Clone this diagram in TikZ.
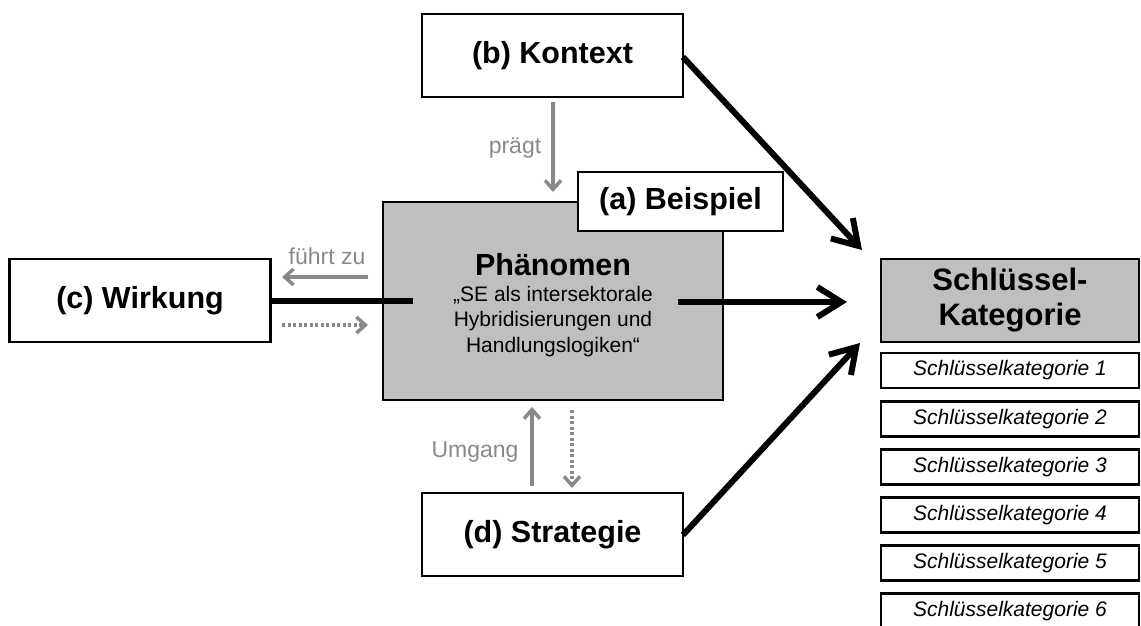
\documentclass[tikz,border=0pt]{standalone}
\usepackage{fontspec}
\setmainfont{Liberation Sans}
\usetikzlibrary{arrows.meta}
\definecolor{boxgray}{RGB}{191,191,191}
\definecolor{argray}{RGB}{137,137,137}
\begin{document}
\begin{tikzpicture}[x=1pt,y=-1pt,
 box/.style={draw=black, line width=2.6pt, fill=white, minimum width=261pt, minimum height=83pt, inner sep=0pt, font=\fontsize{30.5}{34}\selectfont\bfseries},
 catbox/.style={draw=black, line width=2.6pt, fill=white, minimum width=258pt, minimum height=35pt, inner sep=0pt, font=\fontsize{21}{24}\selectfont\itshape},
 bigarrow/.style={line width=6pt, -{Straight Barb[length=24pt,width=30pt]}},
 grayarrow/.style={draw=argray, line width=3.5pt, -{Straight Barb[length=9pt,width=16pt]}},
 dottedarrow/.style={grayarrow, dash pattern=on 3pt off 2.5pt},
 graylabel/.style={text=argray, font=\fontsize{23}{26}\selectfont, inner sep=0pt}
]
\useasboundingbox (0,0) rectangle (1141,625);
\clip (0,0) rectangle (1141,625);
% boxes
\node[box] (kontext) at (552.5,55.5) {(b) Kontext};
\node[box, fill=boxgray, minimum width=340pt, minimum height=198pt] (phen) at (553,301) {};
\node[box, minimum width=205pt, minimum height=59pt] (beispiel) at (680.5,201.5) {(a) Beispiel};
\node[box] (wirkung) at (140,300.5) {(c) Wirkung};
\node[box] (strategie) at (552.5,534.5) {(d) Strategie};
\node[box, fill=boxgray, minimum width=258pt, align=center, font=\fontsize{31}{35}\selectfont\bfseries] (schl) at (1010,300.5) {Schlüssel-\\Kategorie};
\foreach \i/\y in {1/370.5,2/419,3/467,4/515,5/563,6/611}
  \node[catbox] (k\i) at (1010,\y) {Schlüsselkategorie \i};
% phenomenon text
\node[align=center, inner sep=0pt, font=\fontsize{21}{25.5}\selectfont] (phentext) at (553,305)
  {{\fontsize{30.5}{34}\selectfont\bfseries Phänomen}\\„SE als intersektorale\\Hybridisierungen und\\Handlungslogiken“};
% black connectors
\coordinate (wend) at (413,300.5);
\draw[line width=6pt] (wirkung.east) -- (wend);
\coordinate (mstart) at (678,302);
\coordinate (mtip) at (847,302);
\draw[bigarrow] (mstart) -- (mtip);
\coordinate (kstart) at (683,57);
\coordinate (ktip) at (862,250);
\draw[bigarrow] (kstart) -- (ktip);
\coordinate (sstart) at (683,535);
\coordinate (stip) at (860,343);
\draw[bigarrow] (sstart) -- (stip);
% gray connectors
\coordinate (p1) at (553,102);
\coordinate (p2) at (553,192);
\draw[grayarrow] (p1) -- (p2);
\node[graylabel] (praegt) at (515,148) {prägt};
\coordinate (f1) at (368,277);
\coordinate (f2) at (282,277);
\draw[grayarrow] (f1) -- (f2);
\node[graylabel] (fuehrt) at (327,256) {führt zu};
\coordinate (d1) at (282,325);
\coordinate (d2) at (368,325);
\draw[dottedarrow] (d1) -- (d2);
\coordinate (u1) at (532,486);
\coordinate (u2) at (532,407);
\draw[grayarrow] (u1) -- (u2);
\node[graylabel] (umgang) at (475,452) {Umgang};
\coordinate (e1) at (572,410);
\coordinate (e2) at (572,488);
\draw[dottedarrow] (e1) -- (e2);
\end{tikzpicture}
\end{document}
